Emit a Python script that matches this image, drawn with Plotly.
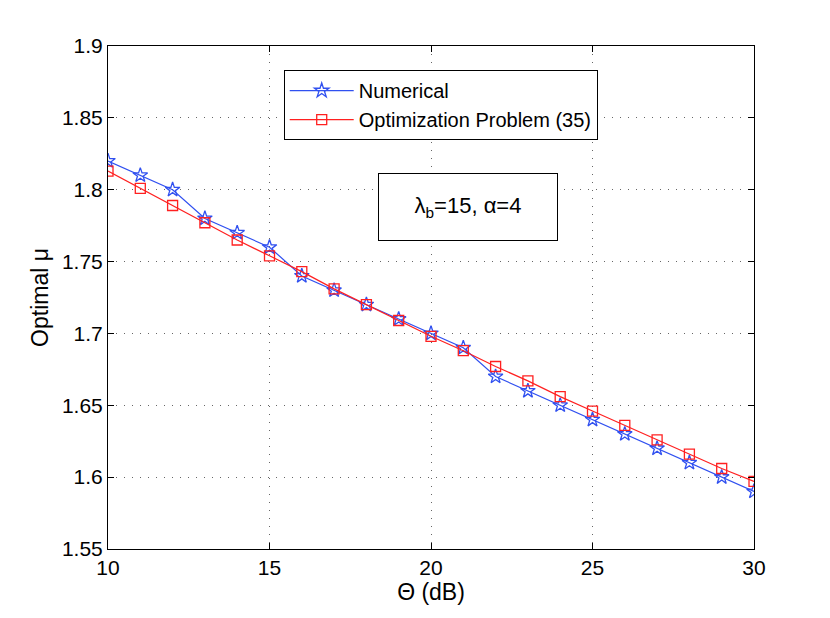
import plotly.graph_objects as go

# data
theta_db = list(range(10, 31))
mu_numerical = [1.82, 1.81, 1.80, 1.78, 1.77, 1.76, 1.74, 1.73, 1.72, 1.71, 1.70,
                1.69, 1.67, 1.66, 1.65, 1.64, 1.63, 1.62, 1.61, 1.60, 1.59]
mu_optimization = [1.813, 1.801, 1.789, 1.777, 1.765, 1.754, 1.743, 1.731, 1.720, 1.709, 1.698,
                   1.688, 1.677, 1.667, 1.656, 1.646, 1.636, 1.626, 1.616, 1.606, 1.597]

x_ticks = [10, 15, 20, 25, 30]
y_ticks = [1.55, 1.6, 1.65, 1.7, 1.75, 1.8, 1.85, 1.9]
y_labels = ["1.55", "1.6", "1.65", "1.7", "1.75", "1.8", "1.85", "1.9"]

font = "Liberation Sans, Arial, sans-serif"

fig = go.Figure()
fig.add_trace(go.Scatter(
    x=theta_db, y=mu_numerical, name="Numerical", mode="lines+markers",
    line=dict(color="#3050f0", width=1.2),
    marker=dict(symbol="star-open", size=11, color="#3050f0", line=dict(width=1.3)),
))
fig.add_trace(go.Scatter(
    x=theta_db, y=mu_optimization, name="Optimization Problem (35)", mode="lines+markers",
    line=dict(color="#ff2020", width=1.2),
    marker=dict(symbol="square-open", size=10, color="#ff2020", line=dict(width=1.3)),
))

axis_common = dict(
    showline=True, linecolor="black", linewidth=1, mirror="ticks",
    ticks="inside", ticklen=6, tickcolor="black",
    showgrid=True, gridcolor="rgba(0,0,0,0.6)", griddash="1px,7px", gridwidth=1,
    zeroline=False, tickfont=dict(size=21, color="black", family=font),
)

fig.update_xaxes(range=[10, 30], tickvals=x_ticks,
                 title=dict(text="Θ (dB)", font=dict(size=23, color="black", family=font), standoff=2),
                 **axis_common)
fig.update_yaxes(range=[1.55, 1.9], tickvals=y_ticks, ticktext=y_labels,
                 title=dict(text="Optimal μ", font=dict(size=23, color="black", family=font), standoff=6),
                 **axis_common)

fig.add_annotation(
    text="λ<sub>b</sub>=15, α=4", xref="paper", yref="paper", x=0.557, y=0.679,
    xanchor="center", yanchor="middle",
    showarrow=False, font=dict(size=22, color="black", family=font),
    bordercolor="black", borderwidth=1, bgcolor="white", width=176, height=64,
)

fig.update_layout(
    width=830, height=618,
    margin=dict(l=100, r=84, t=38, b=77),
    paper_bgcolor="white", plot_bgcolor="white",
    font=dict(family=font, color="black"),
    legend=dict(x=0.272, y=0.952, xanchor="left", yanchor="top",
                bordercolor="black", borderwidth=1, bgcolor="white",
                font=dict(size=20, color="black", family=font),
                tracegroupgap=0, itemwidth=64),
    showlegend=True,
)

fig.write_html("out.html")
